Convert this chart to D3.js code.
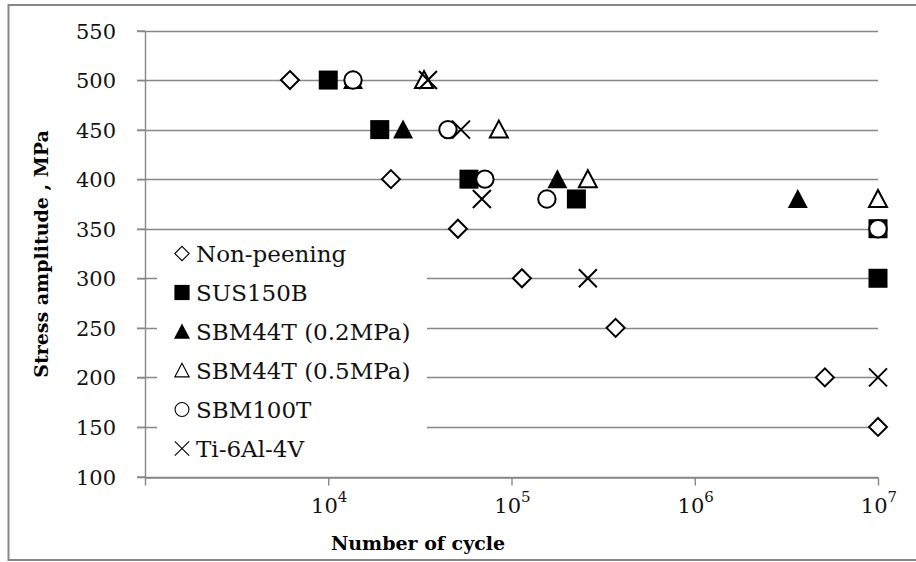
<!DOCTYPE html>
<html>
<head>
<meta charset="utf-8">
<script src="https://cdn.jsdelivr.net/npm/d3@7"></script>
<style>
  body { margin: 0; background: #fff; }
  svg { display: block; }
</style>
</head>
<body>
<div id="chart"></div>
<script>
// S-N data (cycles, stress amplitude in MPa)
var nonPeeningN = [6180, 21980, 51000, 114000, 370000, 5130000, 1e7];
var nonPeeningS = [500, 400, 350, 300, 250, 200, 150];
var sus150bN = [1e4, 19100, 58600, 226000, 1e7, 1e7];
var sus150bS = [500, 450, 400, 380, 350, 300];
var sbm44t02N = [13650, 25600, 178000, 3650000];
var sbm44t02S = [500, 450, 400, 380];
var sbm44t05N = [33300, 85300, 261000, 1e7];
var sbm44t05S = [500, 450, 400, 380];
var sbm100tN = [13650, 45000, 71600, 156000, 1e7];
var sbm100tS = [500, 450, 400, 380, 350];
var ti64N = [35000, 53000, 68900, 261000, 1e7];
var ti64S = [500, 450, 380, 300, 200];

var seriesNames = ["Non-peening", "SUS150B", "SBM44T (0.2MPa)", "SBM44T (0.5MPa)", "SBM100T", "Ti-6Al-4V"];
var seriesMarks = ["diamond", "square", "triangleFill", "triangleOpen", "circle", "cross"];

var xTicks = [1e3, 1e4, 1e5, 1e6, 1e7];
var xTickLabels = ["", "4", "5", "6", "7"];
var yTicks = [100, 150, 200, 250, 300, 350, 400, 450, 500, 550];

var series = [
  {name: seriesNames[0], mark: seriesMarks[0], n: nonPeeningN, s: nonPeeningS},
  {name: seriesNames[1], mark: seriesMarks[1], n: sus150bN, s: sus150bS},
  {name: seriesNames[2], mark: seriesMarks[2], n: sbm44t02N, s: sbm44t02S},
  {name: seriesNames[3], mark: seriesMarks[3], n: sbm44t05N, s: sbm44t05S},
  {name: seriesNames[4], mark: seriesMarks[4], n: sbm100tN, s: sbm100tS},
  {name: seriesNames[5], mark: seriesMarks[5], n: ti64N, s: ti64S}
];

var W = 916, H = 562;
var plotL = 145, plotR = 878, plotT = 30.5, plotB = 476.5;
var gridCol = "#878787";
var serif = "'DejaVu Serif', serif";

var svg = d3.select("#chart").append("svg")
  .attr("width", W).attr("height", H);

// outer frame (right side runs off the picture)
svg.append("rect")
  .attr("x", 8.5).attr("y", 5).attr("width", 920).attr("height", 555)
  .attr("fill", "#fff").attr("stroke", gridCol).attr("stroke-width", 2);

var x = d3.scaleLog().domain([1e3, 1e7]).range([plotL, plotR]);
var y = d3.scaleLinear().domain([100, 550]).range([plotB, plotT]);

// horizontal gridlines incl. the little tick stub left of the axis
svg.append("g").selectAll("line")
  .data(yTicks)
  .enter().append("line")
  .attr("x1", plotL - 8).attr("x2", plotR)
  .attr("y1", function(d) { return Math.round(y(d)) + 0.5; })
  .attr("y2", function(d) { return Math.round(y(d)) + 0.5; })
  .attr("stroke", gridCol).attr("stroke-width", 1.4);

// y axis
var yAxis = svg.append("g")
  .attr("transform", "translate(" + plotL + ",0)")
  .call(d3.axisLeft(y).tickValues(yTicks).tickSize(8).tickSizeOuter(0).tickPadding(21));
yAxis.selectAll("line, path").attr("stroke", gridCol).attr("stroke-width", 1.4);
yAxis.selectAll("text")
  .attr("font-family", serif).attr("font-size", 21).attr("fill", "#111")
  .attr("dy", "0.36em");

// x axis
var xAxis = svg.append("g")
  .attr("transform", "translate(0," + (Math.round(plotB) + 0.5) + ")")
  .call(d3.axisBottom(x).tickValues(xTicks).tickSize(8).tickSizeOuter(0).tickFormat(""));
xAxis.selectAll("line, path").attr("stroke", gridCol).attr("stroke-width", 1.4);

var xLab = svg.append("g").selectAll("text")
  .data(xTicks.slice(1))
  .enter().append("text")
  .attr("x", function(d) { return x(d) + 1; })
  .attr("y", 513)
  .attr("text-anchor", "middle")
  .attr("font-family", serif).attr("font-size", 21).attr("fill", "#111");
xLab.append("tspan").text("10");
xLab.append("tspan")
  .attr("dy", -11).attr("font-size", 15)
  .text(function(d, i) { return xTickLabels[i + 1]; });

// axis titles
svg.append("text")
  .attr("x", 418).attr("y", 550)
  .attr("text-anchor", "middle")
  .attr("font-family", serif).attr("font-weight", "bold").attr("font-size", 19)
  .text("Number of cycle");

svg.append("text")
  .attr("transform", "translate(48,254) rotate(-90)")
  .attr("text-anchor", "middle")
  .attr("font-family", serif).attr("font-weight", "bold").attr("font-size", 19)
  .text("Stress amplitude , MPa");

// marker drawing
function drawMark(g, mark, k, sw) {
  var s = 9 * k;
  if (mark === "diamond") {
    g.append("path")
      .attr("d", "M0," + (-s) + "L" + s + ",0L0," + s + "L" + (-s) + ",0Z")
      .attr("fill", "#fff").attr("stroke", "#000").attr("stroke-width", sw);
  } else if (mark === "square") {
    g.append("rect")
      .attr("x", -9.5 * k).attr("y", -9.5 * k)
      .attr("width", 19 * k).attr("height", 19 * k)
      .attr("fill", "#000");
  } else if (mark === "triangleFill") {
    g.append("path")
      .attr("d", "M0," + (-10 * k) + "L" + (10 * k) + "," + (9 * k) + "L" + (-10 * k) + "," + (9 * k) + "Z")
      .attr("fill", "#000");
  } else if (mark === "triangleOpen") {
    g.append("path")
      .attr("d", "M0," + (-9 * k) + "L" + (9 * k) + "," + (8 * k) + "L" + (-9 * k) + "," + (8 * k) + "Z")
      .attr("fill", "#fff").attr("stroke", "#000").attr("stroke-width", sw);
  } else if (mark === "circle") {
    g.append("circle")
      .attr("r", 8.7 * k)
      .attr("fill", "#fff").attr("stroke", "#000").attr("stroke-width", sw);
  } else if (mark === "cross") {
    g.append("path")
      .attr("d", "M" + (-s) + "," + (-s) + "L" + s + "," + s + "M" + s + "," + (-s) + "L" + (-s) + "," + s)
      .attr("fill", "none").attr("stroke", "#000").attr("stroke-width", sw);
  }
}

// data points, series order = drawing order
series.forEach(function(sr) {
  var pts = sr.n.map(function(n, i) { return {n: n, s: sr.s[i]}; });
  svg.append("g").selectAll("g")
    .data(pts)
    .enter().append("g")
    .attr("transform", function(d) { return "translate(" + x(d.n) + "," + y(d.s) + ")"; })
    .each(function() { drawMark(d3.select(this), sr.mark, 1, 2); });
});

// legend with white background covering the gridlines
var legend = svg.append("g");
legend.append("rect")
  .attr("x", 157).attr("y", 234).attr("width", 270).attr("height", 236)
  .attr("fill", "#fff");
var rows = legend.selectAll("g.row")
  .data(series)
  .enter().append("g")
  .attr("class", "row")
  .attr("transform", function(d, i) { return "translate(182," + (253.5 + i * 39) + ")"; });
rows.each(function(d) { drawMark(d3.select(this), d.mark, 0.8, 1.1); });
rows.append("text")
  .attr("x", 14).attr("dy", "0.36em")
  .attr("font-family", serif).attr("font-size", 23).attr("fill", "#111")
  .text(function(d) { return d.name; });
</script>
</body>
</html>
